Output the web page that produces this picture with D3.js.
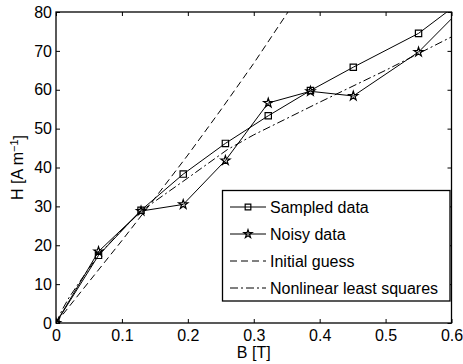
<!DOCTYPE html>
<html>
<head>
<meta charset="utf-8">
<script src="https://cdn.jsdelivr.net/npm/d3@7"></script>
<style>
  body { margin: 0; background: #fff; }
  svg text { font-family: "Liberation Sans", Arial, sans-serif; fill: #000; }
</style>
</head>
<body>
<div id="chart"></div>
<script>
// sample points (B in T)
const bSamples = [0, 0.0645, 0.129, 0.193, 0.257, 0.322, 0.386, 0.451, 0.55, 0.65];
const hSampled = [0, 17.4, 29.0, 38.3, 46.2, 53.3, 59.8, 65.8, 74.5, 87.3];
const hNoisy   = [0, 18.4, 28.8, 30.5, 41.8, 56.6, 59.6, 58.4, 69.7, 86.8];

// initial guess curve
const bGuess = [0, 0.05, 0.1, 0.15, 0.2, 0.25, 0.3, 0.35, 0.4];
const hGuess = [0, 10.6, 21.2, 32.1, 43.2, 54.8, 66.8, 79.5, 92.8];

// nonlinear least squares fit
const bFit = [0, 0.01, 0.02, 0.04, 0.065, 0.1, 0.13, 0.2, 0.26, 0.3, 0.4, 0.5, 0.6];
const hFit = [0, 3.6, 6.6, 11.6, 17.6, 23.9, 28.9, 37.3, 44.6, 48.4, 56.8, 65.0, 73.6];

const xTicks = [0, 0.1, 0.2, 0.3, 0.4, 0.5, 0.6];
const yTicks = [0, 10, 20, 30, 40, 50, 60, 70, 80];
const legendLabels = ['Sampled data', 'Noisy data', 'Initial guess', 'Nonlinear least squares'];

const width = 463, height = 364;
const margin = { top: 12, right: 11.5, bottom: 41, left: 56 };

const svg = d3.select('#chart').append('svg')
  .attr('width', width)
  .attr('height', height);

const x = d3.scaleLinear().domain([0, 0.6]).range([margin.left, width - margin.right]);
const y = d3.scaleLinear().domain([0, 80]).range([height - margin.bottom, margin.top]);

const fontSize = '16px';

svg.append('clipPath').attr('id', 'plot-clip')
  .append('rect')
  .attr('x', x(0)).attr('y', y(80))
  .attr('width', x(0.6) - x(0)).attr('height', y(0) - y(80));

// axes with inward ticks on all sides
const fmt = d3.format('~g');
const gx = svg.append('g')
  .attr('transform', `translate(0, ${y(0)})`)
  .call(d3.axisBottom(x).tickValues(xTicks).tickFormat(fmt).tickSizeInner(-4).tickSizeOuter(0).tickPadding(7));
const gy = svg.append('g')
  .attr('transform', `translate(${x(0)}, 0)`)
  .call(d3.axisLeft(y).tickValues(yTicks).tickSizeInner(-4).tickSizeOuter(0).tickPadding(4));
const gt = svg.append('g')
  .attr('transform', `translate(0, ${y(80)})`)
  .call(d3.axisTop(x).tickValues(xTicks).tickFormat('').tickSizeInner(-4).tickSizeOuter(0));
const gr = svg.append('g')
  .attr('transform', `translate(${x(0.6)}, 0)`)
  .call(d3.axisRight(y).tickValues(yTicks).tickFormat('').tickSizeInner(-4).tickSizeOuter(0));

[gx, gy, gt, gr].forEach(g => {
  g.select('.domain').remove();
  g.selectAll('line').attr('stroke', '#000').attr('stroke-width', 1);
  g.selectAll('text').style('font-size', fontSize).attr('font-family', null);
});

// frame
svg.append('rect')
  .attr('x', x(0)).attr('y', y(80))
  .attr('width', x(0.6) - x(0)).attr('height', y(0) - y(80))
  .attr('fill', 'none').attr('stroke', '#000').attr('stroke-width', 1.3);

const plot = svg.append('g').attr('clip-path', 'url(#plot-clip)');

const line = d3.line().x(d => x(d[0])).y(d => y(d[1]));
const zip = (a, b) => a.map((v, i) => [v, b[i]]);

const series = [
  { pts: zip(bSamples, hSampled), dash: null, marker: d3.symbolSquare, size: 40 },
  { pts: zip(bSamples, hNoisy), dash: null, marker: d3.symbolStar, size: 26 },
  { pts: zip(bGuess, hGuess), dash: '7,4', marker: null },
  { pts: zip(bFit, hFit), dash: '8,3,2,3', marker: null }
];

series.forEach(s => {
  plot.append('path')
    .datum(s.pts)
    .attr('d', line)
    .attr('fill', 'none')
    .attr('stroke', '#000')
    .attr('stroke-width', 1)
    .attr('stroke-dasharray', s.dash);
  if (s.marker) {
    plot.selectAll(null)
      .data(s.pts.filter(d => d[0] <= 0.6))
      .enter().append('path')
      .attr('transform', d => `translate(${x(d[0])}, ${y(d[1])})`)
      .attr('d', d3.symbol().type(s.marker).size(s.size))
      .attr('fill', 'none')
      .attr('stroke', '#000')
      .attr('stroke-width', 1.2);
  }
});

// legend
const lg = svg.append('g');
lg.append('rect')
  .attr('x', 222.5).attr('y', 190.5)
  .attr('width', 227.5).attr('height', 110.5)
  .attr('fill', '#fff').attr('stroke', '#000').attr('stroke-width', 1.3);

legendLabels.forEach((label, i) => {
  const cy = 207 + i * 27;
  const s = series[i];
  lg.append('line')
    .attr('x1', 230).attr('x2', 266).attr('y1', cy).attr('y2', cy)
    .attr('stroke', '#000').attr('stroke-width', 1)
    .attr('stroke-dasharray', s.dash);
  if (s.marker) {
    lg.append('path')
      .attr('transform', `translate(248, ${cy})`)
      .attr('d', d3.symbol().type(s.marker).size(s.size * 0.8))
      .attr('fill', 'none').attr('stroke', '#000').attr('stroke-width', 1.2);
  }
  lg.append('text')
    .attr('x', 270).attr('y', cy).attr('dy', '0.35em')
    .style('font-size', fontSize)
    .text(label);
});

// axis titles
svg.append('text')
  .attr('x', (x(0) + x(0.6)) / 2).attr('y', 358)
  .attr('text-anchor', 'middle')
  .style('font-size', fontSize)
  .text('B [T]');

const yl = svg.append('text')
  .attr('transform', `translate(23, ${(y(0) + y(80)) / 2}) rotate(-90)`)
  .attr('text-anchor', 'middle')
  .style('font-size', fontSize);
yl.append('tspan').text('H [A m');
yl.append('tspan').attr('dy', '-0.45em').style('font-size', '11px').text('\u22121');
yl.append('tspan').attr('dy', '0.45em').text(']');
</script>
</body>
</html>
